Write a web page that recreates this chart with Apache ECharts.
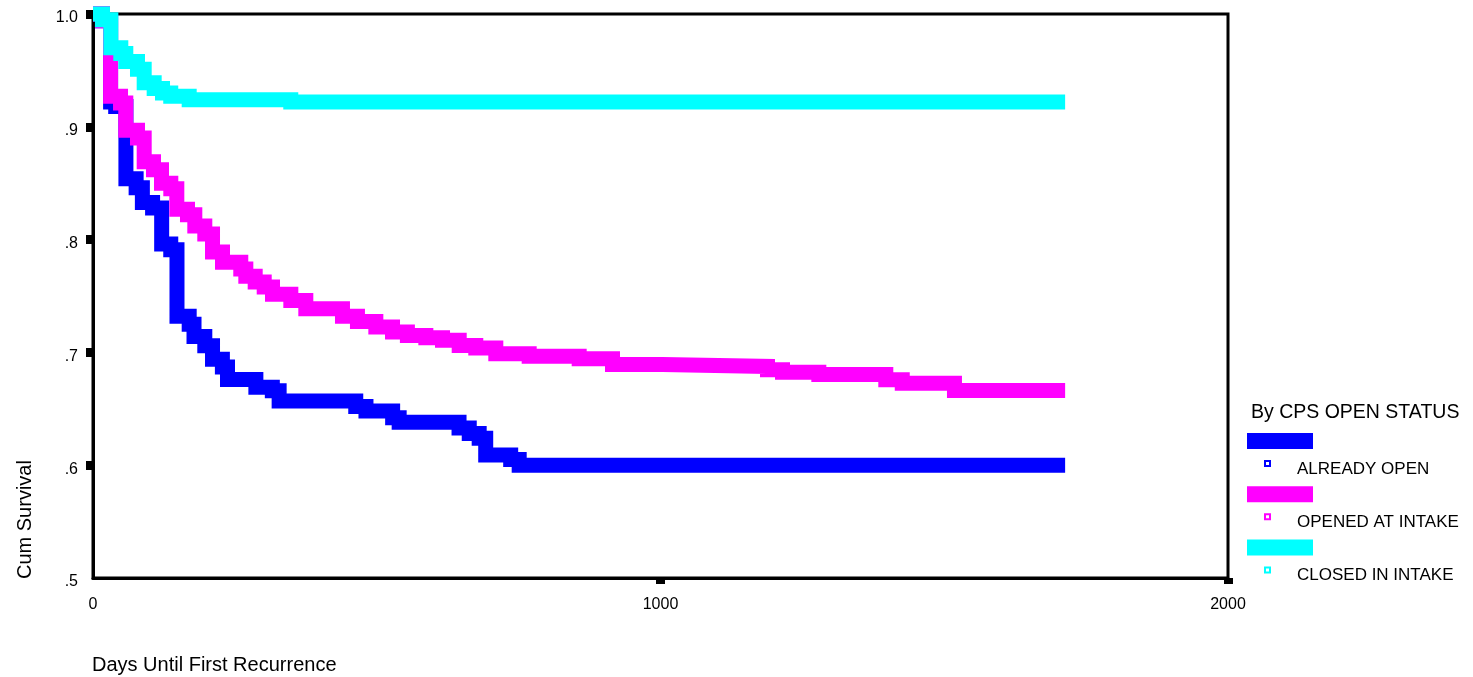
<!DOCTYPE html>
<html>
<head>
<meta charset="utf-8">
<script src="https://cdn.jsdelivr.net/npm/echarts@6/dist/echarts.min.js"></script>
<style>
html,body{margin:0;padding:0;background:#ffffff;}
#chart{width:1473px;height:677px;}
</style>
</head>
<body>
<div id="chart"></div>
<script>
// ---- data ----
const seriesNames = ['ALREADY OPEN', 'OPENED AT INTAKE', 'CLOSED IN INTAKE'];
const seriesColors = ['#0000ff', '#ff00ff', '#00ffff'];
const legendTitle = 'By CPS OPEN STATUS';
const xAxisTitle = 'Days Until First Recurrence';
const yAxisTitle = 'Cum Survival';

const xTickValues = [0, 1000, 2000];
const xTickLabels = ['0', '1000', '2000'];
const yTickValues = [0.5, 0.6, 0.7, 0.8, 0.9, 1.0];
const yTickLabels = ['.5', '.6', '.7', '.8', '.9', '1.0'];

const alreadyOpenDays = [0, 16.7, 31, 40, 58, 76, 87, 105, 121, 137, 148, 169.5, 178, 197, 210.6, 228, 237, 287, 316, 328, 463, 481, 528, 539.5, 645, 663, 680.5, 692, 736, 751, 1713];
const alreadyOpenSurv = [1.0, 0.994, 0.922, 0.918, 0.854, 0.846, 0.833, 0.828, 0.796, 0.791, 0.732, 0.725, 0.714, 0.706, 0.694, 0.687, 0.676, 0.669, 0.666, 0.657, 0.652, 0.648, 0.642, 0.638, 0.633, 0.628, 0.624, 0.609, 0.605, 0.600, 0.600];

const openedAtIntakeDays = [0, 16.7, 31, 48.5, 57.8, 78.4, 90.2, 106.6, 120.7, 137.1, 147.7, 166.5, 179.4, 197, 210.6, 228.2, 260.4, 269.3, 285.8, 301.7, 316.3, 348.6, 375, 439.6, 466, 498.4, 527.8, 554, 586.5, 615.9, 645.3, 674.5, 709.8, 768.6, 856.7, 915.4, 1003.5, 1188.5, 1215, 1279, 1397, 1426, 1518, 1713];
const openedAtIntakeSurv = [1.0, 0.994, 0.927, 0.921, 0.897, 0.890, 0.869, 0.862, 0.850, 0.845, 0.827, 0.822, 0.812, 0.805, 0.789, 0.780, 0.774, 0.7675, 0.7624, 0.758, 0.7515, 0.746, 0.7387, 0.732, 0.7275, 0.7225, 0.718, 0.715, 0.713, 0.7107, 0.7062, 0.7038, 0.6988, 0.6965, 0.6943, 0.6893, 0.6876, 0.6846, 0.6825, 0.6805, 0.6757, 0.6727, 0.6663, 0.6663];

const closedInIntakeDays = [0, 16.7, 31.4, 49, 57.8, 78.4, 90.2, 107.8, 122.5, 137, 169.5, 348.5, 1713];
const closedInIntakeSurv = [1.0, 0.995, 0.970, 0.965, 0.958, 0.951, 0.939, 0.934, 0.930, 0.927, 0.924, 0.922, 0.922];

// ---- build ----
const allDays = [alreadyOpenDays, openedAtIntakeDays, closedInIntakeDays];
const allSurv = [alreadyOpenSurv, openedAtIntakeSurv, closedInIntakeSurv];
const FONT = '"Liberation Sans", Arial, sans-serif';

function pairs(d, s) { return d.map((v, i) => [v, s[i]]); }

const series = seriesNames.map((name, i) => ({
  name: name,
  type: 'line',
  step: 'end',
  data: pairs(allDays[i], allSurv[i]),
  showSymbol: false,
  symbol: 'none',
  clip: false,
  silent: true,
  lineStyle: { color: seriesColors[i], width: 15, cap: 'butt', join: 'miter' },
  itemStyle: { color: seriesColors[i] },
  z: 3 + i
}));

// legend drawn in the SPSS style (bar, then marker + label)
const legendGraphics = [{
  type: 'text', left: 1251, top: 403,
  style: { text: legendTitle, fill: '#000', font: '19.5px ' + FONT }
}];
seriesNames.forEach((name, i) => {
  const baseY = 433 + i * 53.2;
  legendGraphics.push({
    type: 'rect', shape: { x: 1247, y: baseY, width: 66, height: 16 },
    style: { fill: seriesColors[i] }
  });
  legendGraphics.push({
    type: 'rect', shape: { x: 1265, y: baseY + 28, width: 5, height: 5 },
    style: { fill: '#ffffff', stroke: seriesColors[i], lineWidth: 2 }
  });
  legendGraphics.push({
    type: 'text', x: 1297, y: baseY + 36,
    style: { text: name, fill: '#000', font: '17px ' + FONT, verticalAlign: 'middle' }
  });
});

const chart = echarts.init(document.getElementById('chart'), null, { renderer: 'canvas' });
chart.setOption({
  animation: false,
  backgroundColor: '#ffffff',
  textStyle: { fontFamily: FONT, color: '#000' },
  grid: {
    left: 93, right: 245, top: 14, bottom: 99,
    show: true, borderColor: '#000', borderWidth: 3, backgroundColor: 'transparent'
  },
  xAxis: {
    type: 'value', min: 0, max: 2000, interval: 1000,
    name: xAxisTitle, nameLocation: 'start', nameGap: 1,
    nameTextStyle: { fontSize: 20, fontFamily: FONT, color: '#000', align: 'left', verticalAlign: 'top', padding: [77, 0, 0, 0] },
    axisLine: { show: true, lineStyle: { color: '#000', width: 3 } },
    axisTick: { show: true, customValues: [1000, 2000], length: 6, lineStyle: { color: '#000', width: 9 } },
    axisLabel: {
      margin: 19, fontSize: 16, fontFamily: FONT, color: '#000',
      formatter: v => { const k = xTickValues.indexOf(v); return k >= 0 ? xTickLabels[k] : ''; }
    },
    splitLine: { show: false }
  },
  yAxis: {
    type: 'value', min: 0.5, max: 1.0, interval: 0.1,
    name: yAxisTitle, nameLocation: 'start', nameGap: 1, nameRotate: 90,
    nameTextStyle: { fontSize: 20, fontFamily: FONT, color: '#000', align: 'left', verticalAlign: 'bottom', padding: [0, 0, 58, 0] },
    axisLine: { show: true, lineStyle: { color: '#000', width: 3 } },
    axisTick: { show: true, customValues: [0.6, 0.7, 0.8, 0.9, 1.0], length: 7, lineStyle: { color: '#000', width: 9 } },
    axisLabel: {
      margin: 15, fontSize: 16, fontFamily: FONT, color: '#000', verticalAlign: 'top', lineHeight: 8,
      formatter: v => {
        let k = -1;
        yTickValues.forEach((t, j) => { if (Math.abs(t - v) < 1e-6) k = j; });
        return k >= 0 ? yTickLabels[k] : '';
      }
    },
    splitLine: { show: false }
  },
  graphic: legendGraphics,
  series: series
});
</script>
</body>
</html>
